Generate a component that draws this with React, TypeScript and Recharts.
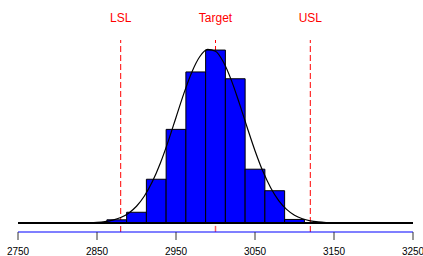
import React from 'react';
import { ComposedChart, Line, XAxis, YAxis, ReferenceLine, ReferenceArea } from 'recharts';

// Histogram bins (value range) and counts
const binStarts = [2862.5, 2887.5, 2912.5, 2937.5, 2962.5, 2987.5, 3012.5, 3037.5, 3062.5, 3087.5];
const binEnds = [2887.5, 2912.5, 2937.5, 2962.5, 2987.5, 3012.5, 3037.5, 3062.5, 3087.5, 3112.5];
const binCounts = [0.9, 3, 12.2, 26.1, 42.1, 48.2, 40.2, 15, 9, 1];

// Fitted density curve (in count units)
const curveX = [2750, 2800, 2820, 2840, 2850, 2860, 2870, 2880, 2890, 2900, 2910, 2920, 2930, 2940, 2950, 2960, 2970, 2980, 2990, 3000, 3010, 3020, 3030, 3040, 3050, 3060, 3070, 3080, 3090, 3100, 3110, 3120, 3130, 3140, 3160, 3200, 3250];
const curveY = [0, 0, 0.02, 0.09, 0.19, 0.41, 0.81, 1.53, 2.75, 4.68, 7.53, 11.48, 16.58, 22.68, 29.42, 36.13, 42.03, 46.33, 48.38, 47.86, 44.86, 39.82, 33.49, 26.69, 20.15, 14.4, 9.76, 6.26, 3.81, 2.19, 1.2, 0.62, 0.3, 0.14, 0.03, 0, 0];

const xTicks = [2750, 2850, 2950, 3050, 3150, 3250];
const specNames = ['LSL', 'Target', 'USL'];
const specValues = [2880, 3000, 3120];
const targetValue = 3000;
const yDomain: [number, number] = [-2.5, 51];
const targetMarkTop = -0.8;

const curveData = curveX.map((x, i) => ({ x, y: curveY[i] }));

export default function App() {
  return (
    <div style={{ position: 'absolute', left: 0, top: 0, width: 423, height: 256, background: '#fff' }}>
      <ComposedChart
        width={423}
        height={256}
        data={curveData}
        margin={{ top: 40, right: 10, bottom: 0, left: 18 }}
        style={{ fontFamily: '"Liberation Sans", Arial, sans-serif' }}
      >
        <XAxis
          dataKey="x"
          type="number"
          domain={[2750, 3250]}
          ticks={xTicks}
          interval={0}
          allowDataOverflow
          height={24}
          axisLine={{ stroke: '#0000ff', strokeWidth: 1.2 }}
          tickLine={{ stroke: '#333' }}
          tickSize={8}
          tickMargin={8}
          tick={{ fontSize: 10, fill: '#000' }}
        />
        <YAxis hide type="number" domain={yDomain} allowDataOverflow />
        {specValues.map((v, i) => (
          <ReferenceLine
            key={'s' + i}
            x={v}
            stroke="#ff0000"
            strokeDasharray="6 3"
            strokeWidth={1}
            zIndex={50}
            label={{ value: specNames[i], position: 'top', fill: '#ff0000', fontSize: 12, offset: 18 }}
          />
        ))}
        {binStarts.map((s, i) => (
          <ReferenceArea
            key={'b' + i}
            x1={s}
            x2={binEnds[i]}
            y1={0}
            y2={binCounts[i]}
            fill="#0000ff"
            fillOpacity={1}
            stroke="#000"
            strokeWidth={1}
            strokeOpacity={1}
            ifOverflow="visible"
            zIndex={150}
          />
        ))}
        <ReferenceLine y={0} stroke="#000" strokeWidth={2} zIndex={200} />
        <Line
          dataKey="y"
          type="monotone"
          stroke="#000"
          strokeWidth={1.2}
          dot={false}
          isAnimationActive={false}
          zIndex={300}
        />
        <ReferenceLine
          segment={[{ x: targetValue, y: yDomain[0] }, { x: targetValue, y: targetMarkTop }]}
          stroke="#ff6060"
          strokeWidth={1.5}
          zIndex={300}
        />
      </ComposedChart>
    </div>
  );
}
